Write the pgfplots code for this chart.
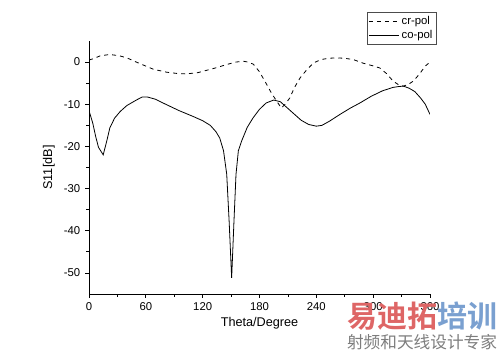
\documentclass[border=0pt]{standalone}
\usepackage{fontspec}
\setmainfont{Liberation Sans}
\newfontfamily\cjk{Noto Sans CJK SC}
\newfontfamily\cjkbold{Noto Sans CJK SC Bold}
\usepackage{pgfplots}
\pgfplotsset{compat=1.18}
\definecolor{wmred}{RGB}{222,102,102}
\definecolor{wmblue}{RGB}{122,160,208}
\definecolor{wmgray}{RGB}{125,125,125}
\begin{document}
\begin{tikzpicture}[x=1pt,y=1pt]
\useasboundingbox (0,0) rectangle (375,264.75);
\begin{axis}[
  at={(66.75pt,44.25pt)}, anchor=south west,
  scale only axis, width=255.75pt, height=189.75pt,
  xmin=0, xmax=360, ymin=-55, ymax=5,
  axis x line*=bottom, axis y line*=left,
  axis line style={-, line width=0.6pt},
  xtick={0,60,...,360}, ytick={-50,-40,...,0},
  minor x tick num=1, minor y tick num=1,
  tick align=outside,
  major tick length=3pt, minor tick length=2pt,
  tick style={black, line width=0.5pt},
  /pgf/number format/assume math mode=true,
  ticklabel style={font=\fontsize{8.5}{10}\selectfont},
  xlabel={Theta/Degree}, ylabel={S11[dB]},
  label style={font=\fontsize{9.5}{11}\selectfont},
  xlabel style={yshift=2pt},
  legend style={at={(axis description cs:0.815,1.115)}, anchor=north west,
    font=\fontsize{8.5}{10}\selectfont, draw=black!70, line width=0.5pt,
    inner sep=1pt, row sep=-1pt},
  legend cell align=left,
  legend image post style={line width=0.6pt},
  legend image code/.code={\draw[#1] (0cm,0cm) -- (0.78cm,0cm);},
]
\addplot[black, line width=0.6pt, dashed] coordinates {
(0,0.5) (4.6,0.8) (12,1.5) (22,1.8) (32,1.5) (40,1.0) (52,-0.2) (68,-1.7) (82,-2.4) (95,-2.75) (103,-2.8) (115,-2.5) (125,-1.9) (135,-1.3) (145,-0.6) (155,0) (163,0.2) (168,0.0) (173.5,-0.5) (180,-2.3) (187.6,-5.3) (193,-7.5) (198,-9.2) (203,-10.9) (207,-10) (212,-8.5) (217,-6) (223,-3.7) (230,-1.8) (237,-0.2) (245,0.6) (253,0.9) (261,1.0) (270,0.9) (279,0.6) (290,-0.3) (300,-0.9) (307,-1.4) (314,-2.7) (321,-4.5) (327,-5.4) (332,-5.7) (337,-5.3) (342.5,-4.5) (349,-2.8) (355,-0.95) (360,0)
};
\addlegendentry{cr-pol}
\addplot[black, line width=0.6pt] coordinates {
(0,-11.5) (4,-14.5) (7,-17.6) (10,-20.2) (15,-22) (19,-18.5) (22,-15.6) (27,-13.3) (33,-11.7) (40,-10.3) (50,-9.0) (56,-8.3) (62,-8.3) (70,-8.8) (80,-9.9) (95,-11.5) (110,-12.9) (120,-13.9) (128,-15.0) (134,-16.5) (138,-18.0) (142,-21) (145.4,-26.6) (148,-38) (150.6,-51.2) (153,-38) (155.2,-26.6) (157.7,-21) (161,-18.8) (167,-15.5) (173,-13.3) (180,-11.2) (187,-9.7) (195,-9.0) (202,-9.4) (208,-10.6) (216,-12.2) (224,-13.8) (232,-14.8) (240,-15.2) (246,-15.0) (254,-14.0) (265,-12.4) (276,-10.9) (286,-9.7) (298,-8.1) (310,-6.8) (321,-6.0) (327,-5.8) (332,-5.7) (338,-6.2) (344,-7.0) (350,-8.5) (355,-10.0) (360,-12.4)
};
\addlegendentry{co-pol}
\end{axis}
\node[font=\cjkbold\fontsize{22.5}{24}\selectfont, inner sep=0pt] at (316.5,27.75)
  {\textcolor{wmred}{易迪拓}\textcolor{wmblue}{培训}};
\node[font=\cjk\fontsize{12.5}{14}\selectfont, text=wmgray, inner sep=0pt] at (316.5,8.25)
  {射频和天线设计专家};
\end{tikzpicture}
\end{document}
